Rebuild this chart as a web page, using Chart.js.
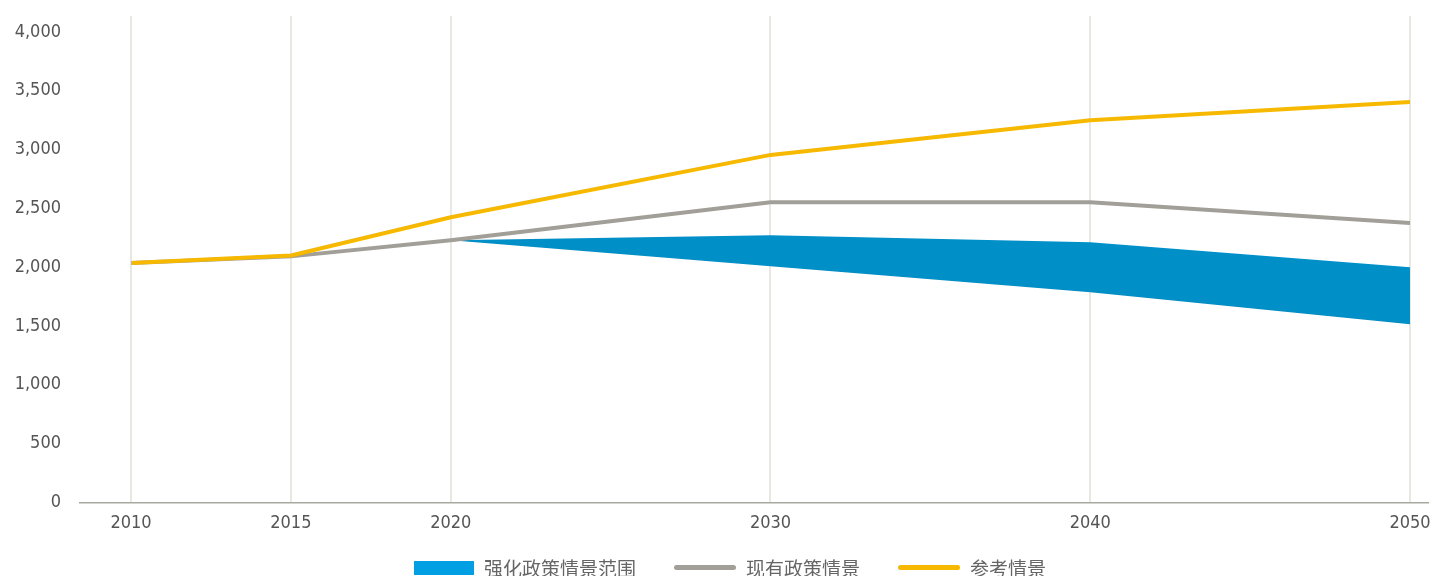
<!DOCTYPE html>
<html>
<head>
<meta charset="utf-8">
<script src="https://cdn.jsdelivr.net/npm/chart.js@4.4.1/dist/chart.umd.min.js"></script>
<style>
  body { margin: 0; background: #fff; overflow: hidden; }
  #wrap { position: relative; width: 1442px; height: 576px; }
  #legend {
    position: absolute; left: 9px; top: 554px; width: 1442px;
    display: flex; justify-content: center; align-items: center;
    font-family: "Noto Sans CJK SC", sans-serif; font-size: 19px; color: #666;
  }
  .item { display: flex; align-items: center; margin: 0 19px; }
  .swatch { width: 60px; margin-right: 10px; }
</style>
</head>
<body>
<div id="wrap">
  <canvas id="c" width="1442" height="576"></canvas>
  <div id="legend"></div>
</div>
<script>
const years = [2010, 2015, 2020, 2030, 2040, 2050];
const referenceCase = [2035, 2100, 2425, 2955, 3250, 3405];
const currentPolicy = [2035, 2092, 2230, 2553, 2553, 2375];

const bandYears = [2020, 2030, 2040, 2050];
const bandHigh = [2230, 2272, 2213, 2000];
const bandLow = [2230, 2009, 1787, 1515];

const yTicks = [0, 500, 1000, 1500, 2000, 2500, 3000, 3500, 4000];

const names = ["强化政策情景范围", "现有政策情景", "参考情景"];
const colors = ["#008fc7", "#a19f98", "#f6b900"];

const tickFont = { family: "'DejaVu Sans Condensed', 'Liberation Sans', sans-serif", size: 18 };

const pts = (xs, ys) => xs.map((x, i) => ({ x: x, y: ys[i] }));

const ctx = document.getElementById("c").getContext("2d");
new Chart(ctx, {
    type: "line",
    data: {
        datasets: [
            { label: names[2], data: pts(years, referenceCase), borderColor: colors[2], borderWidth: 4, pointRadius: 0, fill: false, order: 1 },
            { label: names[1], data: pts(years, currentPolicy), borderColor: colors[1], borderWidth: 4, pointRadius: 0, fill: false, order: 2 },
            { label: names[0], data: pts(bandYears, bandHigh), borderWidth: 0, pointRadius: 0, backgroundColor: colors[0], fill: "+1", order: 3 },
            { label: names[0] + "下限", data: pts(bandYears, bandLow), borderWidth: 0, pointRadius: 0, backgroundColor: colors[0], fill: false, order: 4 }
        ]
    },
    options: {
        responsive: false,
        animation: false,
        layout: { padding: { top: 16, right: 14, bottom: 32, left: 0 } },
        plugins: { legend: { display: false }, tooltip: { enabled: false } },
        scales: {
            x: {
                type: "linear",
                min: 2008.405,
                max: 2050.563,
                afterBuildTicks: (s) => { s.ticks = years.map(v => ({ value: v })); },
                grid: { color: "#e8e8e3", lineWidth: 2, drawTicks: false },
                border: { color: "#a8a8a0", width: 1.5 },
                ticks: { padding: 10, color: "#555", font: tickFont, callback: (v) => String(v) }
            },
            y: {
                min: 0,
                max: 4136,
                afterBuildTicks: (s) => { s.ticks = yTicks.map(v => ({ value: v })); },
                afterFit: (s) => { s.width = 80; s.paddingTop = 0; s.paddingBottom = 0; },
                grid: { display: false, drawTicks: false },
                border: { display: false },
                ticks: { padding: 19, color: "#555", font: tickFont, callback: (v) => v.toLocaleString("en-US") }
            }
        }
    }
});

// legend under the plot
const legend = document.getElementById("legend");
names.forEach((name, i) => {
    const item = document.createElement("div");
    item.className = "item";
    const sw = document.createElement("div");
    sw.className = "swatch";
    if (i == 0) {
        sw.style.height = "14px";
        sw.style.background = "#009fe3";
    } else {
        sw.style.width = "62px";
        sw.style.height = "5px";
        sw.style.borderRadius = "3px";
        sw.style.background = colors[i];
    }
    item.appendChild(sw);
    const t = document.createElement("span");
    t.textContent = name;
    item.appendChild(t);
    legend.appendChild(item);
});
</script>
</body>
</html>
